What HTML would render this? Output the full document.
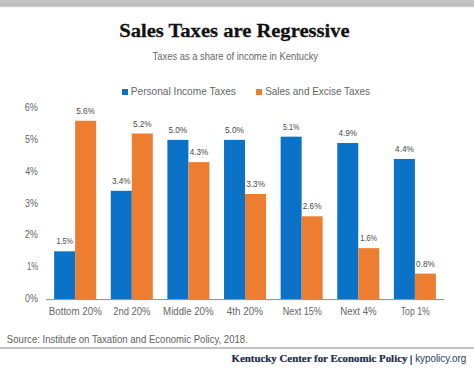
<!DOCTYPE html>
<html><head><meta charset="utf-8"><style>
html,body{margin:0;padding:0;background:#fff;}
body{width:474px;height:373px;overflow:hidden;position:relative;}
.topbar{position:absolute;left:0;top:0;width:474px;height:6px;background:linear-gradient(#c6c6c6,#bcbcbc);}
.topshadow{position:absolute;left:0;top:6px;width:474px;height:2px;background:linear-gradient(#cfcfcf 0,#cfcfcf 50%,#f4f4f4 50%,#f4f4f4 100%);}
svg{position:absolute;left:0;top:0;}
text{font-family:"Liberation Sans",sans-serif;}
.title{font-family:"Liberation Serif",serif;font-weight:bold;font-size:19.6px;fill:#111;stroke:#111;stroke-width:0.3px;}
.sub{font-size:10.2px;fill:#666;}
.leg{font-size:10.2px;fill:#666;}
.yl{font-size:10px;fill:#666;}
.vl{font-size:9px;fill:#484848;}
.xl{font-size:10px;fill:#666;}
.src{font-size:10.4px;fill:#606060;}
.foot{font-family:"Liberation Serif",serif;font-weight:bold;font-size:10.5px;fill:#1b2b4b;stroke:#1b2b4b;stroke-width:0.2px;}
.foot2{font-size:10.5px;fill:#2b3b5b;}
</style></head><body>
<div class="topbar"></div><div class="topshadow"></div>
<svg width="474" height="373" viewBox="0 0 474 373">
<rect x="54.15" y="251.33" width="21.00" height="47.78" fill="#0a72c7"/>
<rect x="75.15" y="120.74" width="21.00" height="178.36" fill="#ed7d31"/>
<rect x="110.78" y="190.81" width="21.00" height="108.29" fill="#0a72c7"/>
<rect x="131.78" y="133.48" width="21.00" height="165.62" fill="#ed7d31"/>
<rect x="167.40" y="139.85" width="21.00" height="159.25" fill="#0a72c7"/>
<rect x="188.40" y="162.15" width="21.00" height="136.96" fill="#ed7d31"/>
<rect x="224.03" y="139.85" width="21.00" height="159.25" fill="#0a72c7"/>
<rect x="245.03" y="194.00" width="21.00" height="105.11" fill="#ed7d31"/>
<rect x="280.65" y="136.67" width="21.00" height="162.44" fill="#0a72c7"/>
<rect x="301.65" y="216.29" width="21.00" height="82.81" fill="#ed7d31"/>
<rect x="337.27" y="143.03" width="21.00" height="156.07" fill="#0a72c7"/>
<rect x="358.27" y="248.14" width="21.00" height="50.96" fill="#ed7d31"/>
<rect x="393.90" y="158.96" width="21.00" height="140.14" fill="#0a72c7"/>
<rect x="414.90" y="273.62" width="21.00" height="25.48" fill="#ed7d31"/>
<rect x="46" y="299" width="398" height="1.1" fill="#a0958c"/>
<rect x="122" y="89" width="6" height="6" fill="#0a72c7"/>
<rect x="256" y="89" width="6" height="6" fill="#ed7d31"/>
<rect x="0" y="347" width="474" height="2" fill="#c4c4c4"/>
<rect x="410.5" y="355.3" width="1.3" height="9.6" fill="#3a4660"/>
<text id="title" x="119.26" y="36.70" textLength="230.36" lengthAdjust="spacingAndGlyphs" class="title">Sales Taxes are Regressive</text>
<text id="sub" x="152.61" y="60.20" textLength="165.45" lengthAdjust="spacingAndGlyphs" class="sub">Taxes as a share of income in Kentucky</text>
<text id="leg1" x="130.75" y="95.40" textLength="105.17" lengthAdjust="spacingAndGlyphs" class="leg">Personal Income Taxes</text>
<text id="leg2" x="265.21" y="95.40" textLength="104.85" lengthAdjust="spacingAndGlyphs" class="leg">Sales and Excise Taxes</text>
<text id="y0" x="24.92" y="302.20" textLength="12.91" lengthAdjust="spacingAndGlyphs" class="yl">0%</text>
<text id="y1" x="26.90" y="270.30" textLength="11.09" lengthAdjust="spacingAndGlyphs" class="yl">1%</text>
<text id="y2" x="24.70" y="238.40" textLength="13.12" lengthAdjust="spacingAndGlyphs" class="yl">2%</text>
<text id="y3" x="24.92" y="206.50" textLength="12.91" lengthAdjust="spacingAndGlyphs" class="yl">3%</text>
<text id="y4" x="25.16" y="174.60" textLength="12.66" lengthAdjust="spacingAndGlyphs" class="yl">4%</text>
<text id="y5" x="24.91" y="142.70" textLength="13.15" lengthAdjust="spacingAndGlyphs" class="yl">5%</text>
<text id="y6" x="24.70" y="110.80" textLength="13.12" lengthAdjust="spacingAndGlyphs" class="yl">6%</text>
<text id="vb0" x="56.40" y="244.43" textLength="16.44" lengthAdjust="spacingAndGlyphs" class="vl">1.5%</text>
<text id="vo0" x="76.17" y="113.84" textLength="18.69" lengthAdjust="spacingAndGlyphs" class="vl">5.6%</text>
<text id="x0" x="48.77" y="315.10" textLength="53.06" lengthAdjust="spacingAndGlyphs" class="xl">Bottom 20%</text>
<text id="vb1" x="111.95" y="183.91" textLength="18.69" lengthAdjust="spacingAndGlyphs" class="vl">3.4%</text>
<text id="vo1" x="132.95" y="126.58" textLength="18.69" lengthAdjust="spacingAndGlyphs" class="vl">5.2%</text>
<text id="x1" x="113.17" y="315.10" textLength="37.25" lengthAdjust="spacingAndGlyphs" class="xl">2nd 20%</text>
<text id="vb2" x="168.48" y="132.95" textLength="18.66" lengthAdjust="spacingAndGlyphs" class="vl">5.0%</text>
<text id="vo2" x="189.72" y="155.25" textLength="18.43" lengthAdjust="spacingAndGlyphs" class="vl">4.3%</text>
<text id="x2" x="163.12" y="315.10" textLength="50.38" lengthAdjust="spacingAndGlyphs" class="xl">Middle 20%</text>
<text id="vb3" x="225.00" y="132.95" textLength="18.95" lengthAdjust="spacingAndGlyphs" class="vl">5.0%</text>
<text id="vo3" x="246.25" y="187.09" textLength="18.69" lengthAdjust="spacingAndGlyphs" class="vl">3.3%</text>
<text id="x3" x="226.75" y="315.10" textLength="36.45" lengthAdjust="spacingAndGlyphs" class="xl">4th 20%</text>
<text id="vb4" x="282.99" y="129.77" textLength="16.22" lengthAdjust="spacingAndGlyphs" class="vl">5.1%</text>
<text id="vo4" x="302.79" y="209.39" textLength="18.68" lengthAdjust="spacingAndGlyphs" class="vl">2.6%</text>
<text id="x4" x="282.67" y="315.10" textLength="39.01" lengthAdjust="spacingAndGlyphs" class="xl">Next 15%</text>
<text id="vb5" x="338.55" y="136.13" textLength="18.46" lengthAdjust="spacingAndGlyphs" class="vl">4.9%</text>
<text id="vo5" x="360.32" y="241.24" textLength="16.66" lengthAdjust="spacingAndGlyphs" class="vl">1.6%</text>
<text id="x5" x="340.28" y="315.10" textLength="36.31" lengthAdjust="spacingAndGlyphs" class="xl">Next 4%</text>
<text id="vb6" x="395.09" y="152.06" textLength="18.68" lengthAdjust="spacingAndGlyphs" class="vl">4.4%</text>
<text id="vo6" x="416.09" y="266.72" textLength="18.68" lengthAdjust="spacingAndGlyphs" class="vl">0.8%</text>
<text id="x6" x="400.78" y="315.10" textLength="29.03" lengthAdjust="spacingAndGlyphs" class="xl">Top 1%</text>
<text id="src" x="6.86" y="342.50" textLength="240.97" lengthAdjust="spacingAndGlyphs" class="src">Source: Institute on Taxation and Economic Policy, 2018.</text>
<text id="foot" x="231.50" y="361.60" textLength="175.92" lengthAdjust="spacingAndGlyphs" class="foot">Kentucky Center for Economic Policy</text>
<text id="foot2" x="415.18" y="361.60" textLength="51.10" lengthAdjust="spacingAndGlyphs" class="foot2">kypolicy.org</text>
</svg>
</body></html>
